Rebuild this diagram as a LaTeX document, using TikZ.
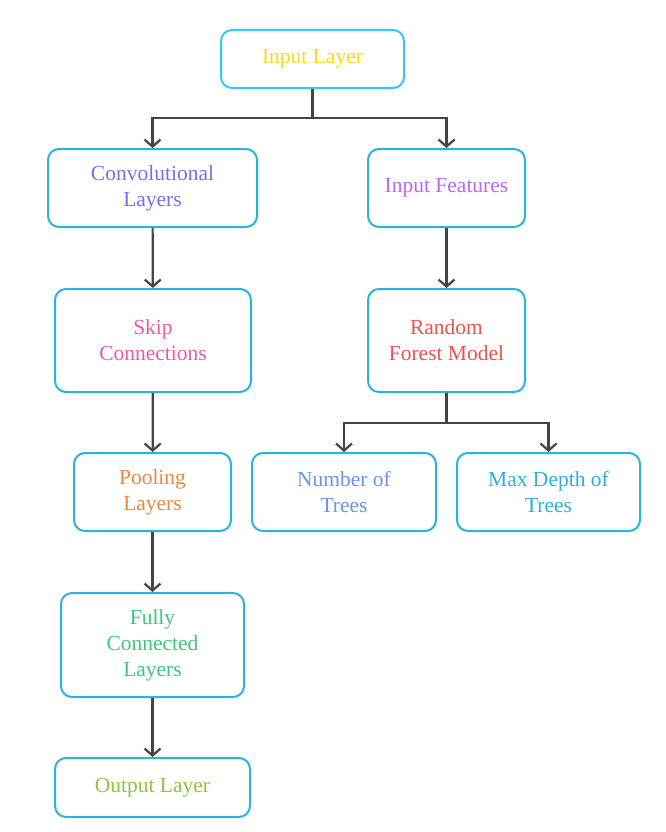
\documentclass[tikz,border=0pt]{standalone}
\usepackage{fontspec}
\setmainfont{Liberation Serif}
\definecolor{boxblue}{HTML}{2AB3DE}
\definecolor{topblue}{HTML}{36C8F5}
\definecolor{linegray}{HTML}{444444}
\definecolor{inyellow}{HTML}{FFD814}
\definecolor{convviolet}{HTML}{7B6CEA}
\definecolor{featpurple}{HTML}{C264EE}
\definecolor{skippink}{HTML}{EA5C9E}
\definecolor{forestred}{HTML}{E8534E}
\definecolor{poolorange}{HTML}{E8893E}
\definecolor{treesblue}{HTML}{6A94EA}
\definecolor{depthcyan}{HTML}{2AB0DA}
\definecolor{fullgreen}{HTML}{3DC77F}
\definecolor{outgreen}{HTML}{8DC440}
\usetikzlibrary{arrows.meta,positioning}

\begin{document}
\begin{tikzpicture}[x=1pt,y=-1pt,
  box/.style={draw=boxblue,line width=2pt,rounded corners=11pt,fill=white,
    align=center,inner sep=0pt,font=\fontsize{21.5}{26}\selectfont},
  link/.style={draw=linegray,line width=2.2pt,-{Straight Barb[length=7pt,width=16pt]}}]
  \useasboundingbox (0,0) rectangle (666,832);
  % Boxes
  \node[box,draw=topblue,minimum width=183pt,minimum height=58pt,text=inyellow] (input) at (312.5,59) {Input Layer};
  \node[box,minimum width=209pt,minimum height=78pt,text=convviolet] (conv) at (152.5,188) {Convolutional\\Layers};
  \node[box,minimum width=157pt,minimum height=78pt,text=featpurple] (feat) at (446.5,188) {Input Features};
  \node[box,minimum width=196pt,minimum height=103pt,text=skippink] (skip) at (153,340.5) {Skip\\Connections};
  \node[box,minimum width=157pt,minimum height=103pt,text=forestred] (forest) at (446.5,340.5) {Random\\Forest Model};
  \node[box,minimum width=157pt,minimum height=78pt,text=poolorange] (pool) at (152.5,492) {Pooling\\Layers};
  \node[box,minimum width=184pt,minimum height=78pt,text=treesblue] (ntrees) at (344,492) {Number of\\Trees};
  \node[box,minimum width=183pt,minimum height=78pt,text=depthcyan] (depth) at (548.5,492) {Max Depth of\\Trees};
  \node[box,minimum width=183pt,minimum height=104pt,text=fullgreen] (full) at (152.5,645) {Fully\\Connected\\Layers};
  \node[box,minimum width=195pt,minimum height=59pt,text=outgreen] (output) at (152.5,787.5) {Output Layer};
  % Split points
  \coordinate (split1) at (312.5,118);
  \coordinate (split2) at (446.5,423);
  % Arrows
  \draw[link] (input.south) -- (split1) -| (conv.north);
  \draw[link] (split1) -| (feat.north);
  \draw[link] (conv) -- (skip);
  \draw[link] (skip) -- (pool);
  \draw[link] (pool) -- (full);
  \draw[link] (full) -- (output);
  \draw[link] (feat) -- (forest);
  \draw[link] (forest.south) -- (split2) -| (ntrees.north);
  \draw[link] (split2) -| (depth.north);
\end{tikzpicture}
\end{document}
